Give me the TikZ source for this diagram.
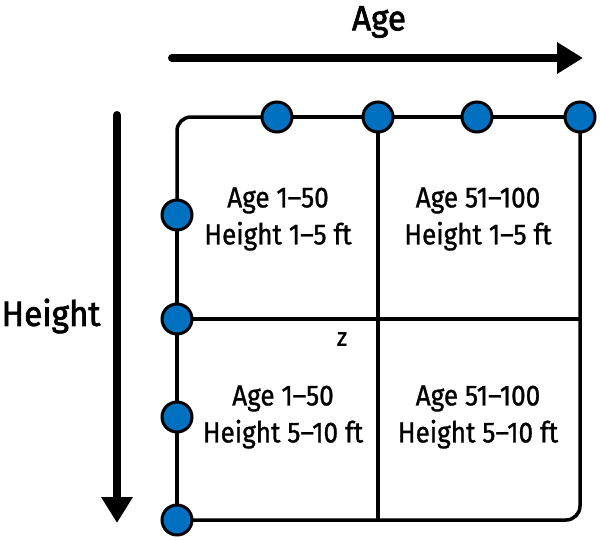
\documentclass[tikz,border=0pt]{standalone}
\usepackage{fontspec}
\setmainfont{Fira Sans}
\newfontfamily\condfont[FakeStretch=0.9,FakeBold=1]{Fira Sans}
\newfontfamily\labfont[FakeStretch=0.95,FakeBold=2]{Fira Sans}
\usetikzlibrary{arrows.meta}
\definecolor{dotblue}{RGB}{0,112,192}
\begin{document}
\begin{tikzpicture}[x=1pt,y=-1pt,
  dot/.style={circle,fill=dotblue,draw=black,line width=3pt,minimum size=30pt,inner sep=0pt},
  gridline/.style={line width=3.5pt},
  axis/.style={line width=8pt,line cap=round,-{Triangle[length=26pt,width=30pt]}},
  cell/.style={font=\condfont\fontsize{29}{37}\selectfont,align=center,inner sep=0pt},
  axlabel/.style={font=\labfont\fontsize{35}{40}\selectfont,inner sep=0pt}]
\useasboundingbox (0,0) rectangle (600,541);
% positions
\coordinate (t1) at (277,117);
\coordinate (t2) at (378,117);
\coordinate (t3) at (477,117);
\coordinate (t4) at (580,117);
\coordinate (l1) at (177,215);
\coordinate (l2) at (177,319);
\coordinate (l3) at (177,417);
\coordinate (l4) at (177,520);
\coordinate (tl) at (177,117);
\coordinate (br) at (580,520);
\coordinate (bm) at (378,520);
\coordinate (rm) at (580,319);
% grid lines
\draw[gridline,rounded corners=14pt] (t1) -- (tl) -- (l1);
\draw[gridline,rounded corners=14pt] (l4) -- (br) -- (t4);
\draw[gridline] (t1) -- (t4);
\draw[gridline] (l1) -- (l4);
\draw[gridline] (t2) -- (bm);
\draw[gridline] (l2) -- (rm);
% dots
\foreach \n in {t1,t2,t3,t4,l1,l2,l3,l4}
  \node[dot] (d\n) at (\n) {};
% axes
\coordinate (ax0) at (172,58);
\coordinate (ax1) at (583,58);
\draw[axis] (ax0) -- (ax1);
\node[axlabel] (agelbl) at (379,22) {Age};
\coordinate (ay0) at (117,115);
\coordinate (ay1) at (117,523);
\draw[axis] (ay0) -- (ay1);
\node[axlabel] (heightlbl) at (51,316) {Height};
% cells
\node[cell] (c11) at (278,219) {Age 1–50\\Height 1–5 ft};
\node[cell] (c12) at (478,219) {Age 51–100\\Height 1–5 ft};
\node[cell] (c21) at (283,417) {Age 1–50\\Height 5–10 ft};
\node[cell] (c22) at (478,417) {Age 51–100\\Height 5–10 ft};
\node[font=\condfont\fontsize{26}{30}\selectfont,inner sep=0pt] (z) at (342,339) {z};
\end{tikzpicture}
\end{document}
